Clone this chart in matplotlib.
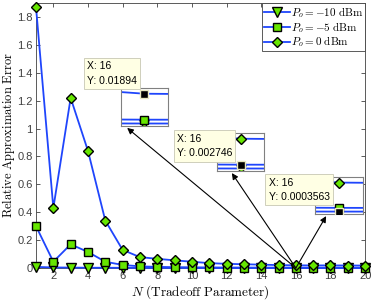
import numpy as np
import matplotlib
matplotlib.use('Agg')
import matplotlib.pyplot as plt

plt.rcParams['mathtext.fontset'] = 'cm'
plt.rcParams['font.family'] = ['Liberation Sans', 'DejaVu Sans']

# data
N = np.arange(1, 21)
err_m10 = [0.008, 0.004, 0.003, 0.002, 0.0018, 0.0015, 0.0012, 0.001, 0.0009, 0.0008,
           0.0007, 0.0006, 0.0005, 0.00045, 0.0004, 0.0003563, 0.00034, 0.00032, 0.0003, 0.00028]
err_m5 = [0.30, 0.045, 0.17, 0.115, 0.045, 0.022, 0.012, 0.008, 0.006, 0.005,
          0.004, 0.0035, 0.0032, 0.003, 0.0029, 0.002746, 0.0027, 0.0026, 0.0025, 0.0024]
err_0 = [1.87, 0.43, 1.22, 0.84, 0.34, 0.13, 0.078, 0.066, 0.055, 0.045,
         0.035, 0.03, 0.027, 0.024, 0.021, 0.01894, 0.0187, 0.0185, 0.018, 0.0175]
labels = [r'$P_o = -10\ \mathrm{dBm}$', r'$P_o = -5\ \mathrm{dBm}$', r'$P_o = 0\ \mathrm{dBm}$']
tip_x = 16
tip_y = [0.01894, 0.002746, 0.0003563]

blue = '#1f45fc'
green = '#66e600'
series = [(err_m10, 'v'), (err_m5, 's'), (err_0, 'D')]
msize = [7, 6, 5.5]

fig = plt.figure(figsize=(3.74, 3.01), dpi=100)
ax = fig.add_axes([0.0963, 0.1096, 0.880, 0.880])

for (y, m), lab, ms in zip(series, labels, msize):
    ax.plot(N, y, color=blue, lw=1.3, marker=m, ms=ms, mfc=green, mec='k',
            mew=1.0, label=lab, clip_on=False, zorder=3)

ax.set_xlim(1, 20)
ax.set_ylim(0, 1.9)
ax.set_xticks(np.arange(2, 21, 2))
ax.set_yticks(np.arange(0, 1.81, 0.2))
ax.set_yticklabels(['0', '0.2', '0.4', '0.6', '0.8', '1', '1.2', '1.4', '1.6', '1.8'])
ax.tick_params(direction='in', top=True, right=True, labelsize=8, colors='#404040',
               length=3, width=0.6, pad=2.5)
for s in ax.spines.values():
    s.set_color('#404040')
    s.set_linewidth(0.6)
ax.set_xlabel(r'$N\ \mathrm{(Tradeoff\ Parameter)}$', fontsize=9.5, labelpad=1)
ax.set_ylabel(r'$\mathrm{Relative\ Approximation\ Error}$', fontsize=9, labelpad=0)

leg = ax.legend(loc='upper right', borderaxespad=0, fontsize=8, handlelength=2.3,
                fancybox=False, edgecolor='#404040', framealpha=1,
                borderpad=0.15, labelspacing=0.0, handletextpad=0.15)
leg.get_frame().set_linewidth(0.6)

# magnified views around N = 16
inset_pos = [[0.3235, 0.5814, 0.1257, 0.1262],
             [0.5802, 0.4319, 0.1257, 0.1262],
             [0.8422, 0.2890, 0.1283, 0.1229]]
tip_series = [2, 1, 0]
arrow_tip = [(0.34, 0.575), (0.62, 0.425), (0.872, 0.282)]
box_pos = [(0.232, 0.757), (0.473, 0.515), (0.718, 0.369)]

for pos, k, yt, tipxy, bxy in zip(inset_pos, tip_series, tip_y, arrow_tip, box_pos):
    ia = fig.add_axes(pos, zorder=5)
    for j, ((y, m), ms) in enumerate(zip(series, msize)):
        if j == k:
            ia.plot(N, y, color=blue, lw=1.3)
        else:
            ia.plot(N, y, color=blue, lw=1.3, marker=m, ms=ms, mfc=green,
                    mec='k', mew=1.0, markevery=[15])
    ia.plot([tip_x], [yt], 's', ms=6, mfc='k', mec='#e8e8c0', mew=1.0, zorder=4)
    ia.set_xlim(15.5, 16.5)
    ia.set_ylim(-0.0012, 0.0225)
    ia.set_xticks([])
    ia.set_yticks([])
    for s in ia.spines.values():
        s.set_color('#808080')
        s.set_linewidth(0.8)

    ax.annotate('', xy=tipxy, xycoords='figure fraction',
                xytext=(tip_x, 0.0), textcoords='data',
                arrowprops=dict(arrowstyle='-|>', color='k', lw=0.8,
                                shrinkA=0, shrinkB=0, mutation_scale=9),
                zorder=6)

    fig.text(bxy[0], bxy[1], 'X: %d\nY: %s' % (tip_x, ('%.7f' % yt).rstrip('0')),
             fontsize=7.5, ha='left', va='center', linespacing=1.6, zorder=7,
             bbox=dict(boxstyle='square,pad=0.3', fc='#ffffe4', ec='#c8c8b4', lw=0.6))

fig.savefig('out.png', dpi=100)
